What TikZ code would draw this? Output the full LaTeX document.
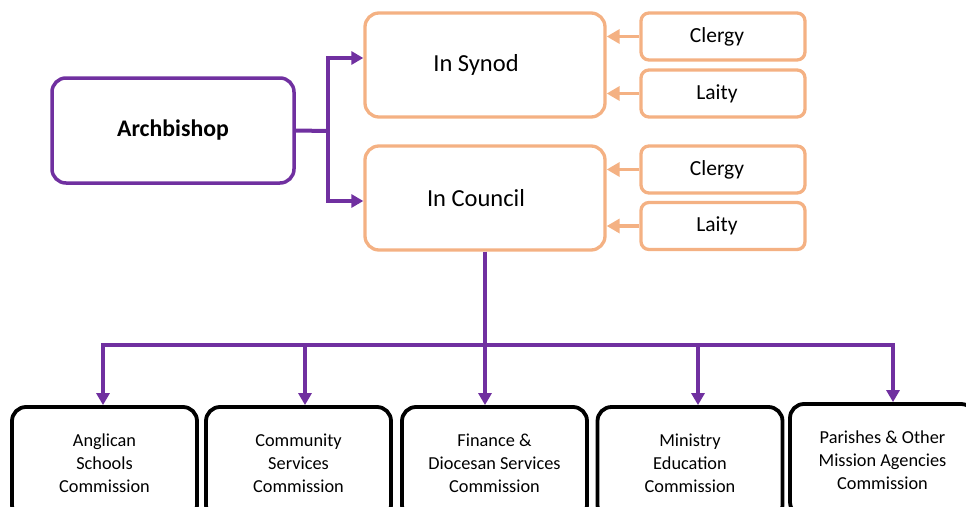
\documentclass[tikz,border=0pt]{standalone}
\usepackage{fontspec}
\setmainfont{Carlito}
\usetikzlibrary{arrows.meta}
\definecolor{govpurple}{HTML}{7030A0}
\definecolor{govorange}{HTML}{F4B183}

\begin{document}
\begin{tikzpicture}[x=1pt,y=-1pt,>=Stealth,
    headbox/.style={draw=govpurple,line width=3.5pt,rounded corners=14pt,
      minimum width=242pt,minimum height=105pt,inner sep=0pt,
      font=\fontsize{23.8}{27}\selectfont\bfseries},
    housebox/.style={draw=govorange,line width=3.3pt,rounded corners=14pt,
      minimum width=240pt,minimum height=104pt,inner sep=0pt,
      font=\fontsize{24.5}{28}\selectfont},
    orderbox/.style={draw=govorange,line width=3.3pt,rounded corners=8pt,
      minimum width=164pt,minimum height=47pt,inner sep=0pt,
      font=\fontsize{21.5}{25}\selectfont},
    commbox/.style={draw=black,line width=3.8pt,rounded corners=14pt,
      minimum width=185pt,minimum height=112pt,inner sep=0pt,align=center,
      font=\fontsize{18.3}{23}\selectfont},
    pline/.style={draw=govpurple,line width=4pt},
    parrow/.style={pline,-{Triangle[length=12pt,width=13pt]}},
    oarrow/.style={draw=govorange,line width=3.5pt,-{Triangle[length=13pt,width=14pt]}}]
  \useasboundingbox (0,0) rectangle (966,506);
  \clip (0,0) rectangle (966,506);
  % Archbishop and the two houses
  \node[headbox] (arch) at (173,130.5) {Archbishop};
  \node[housebox] (synod) at (485,65) {In Synod\hspace*{18pt}};
  \node[housebox] (council) at (485,198) {In Council\hspace*{18pt}};
  % Orders
  \node[orderbox] (clergyS) at (723,36.5) {Clergy\hspace*{12pt}};
  \node[orderbox] (laityS) at (723,93.5) {Laity\hspace*{12pt}};
  \node[orderbox] (clergyC) at (723,169.5) {Clergy\hspace*{12pt}};
  \node[orderbox] (laityC) at (723,226) {Laity\hspace*{12pt}};
  % Commissions
  \node[commbox] (comA) at (104.5,463) {Anglican\\Schools\\Commission};
  \node[commbox] (comB) at (298.5,463) {Community\\Services\\Commission};
  \node[commbox] (comC) at (494.5,463) {Finance \&\\Diocesan Services\\Commission};
  \node[commbox] (comD) at (690,463) {Ministry\\Education\\Commission};
  \node[commbox] (comE) at (882.5,460) {Parishes \& Other\\Mission Agencies\\Commission};
  % Archbishop to houses
  \coordinate (split) at (328,131);
  \draw[pline] (arch.east) -- (split);
  \draw[parrow] (split) |- ([yshift=7pt]synod.west);
  \draw[parrow] (split) |- ([yshift=-3pt]council.west);
  % Orders to houses
  \foreach \o/\h in {clergyS/synod,laityS/synod,clergyC/council,laityC/council}
    \draw[oarrow] (\o.west) -- (\o.west -| \h.east);
  % Council to commissions
  \coordinate (tA) at (103,345);
  \coordinate (tB) at (305,345);
  \coordinate (tD) at (698,345);
  \coordinate (tE) at (893,345);
  \draw[pline] (tA) -- (tE);
  \draw[parrow] (council.south) -- (council.south |- comC.north);
  \foreach \t/\c in {tA/comA,tB/comB,tD/comD,tE/comE}
    \draw[parrow] ([yshift=2pt]\t) -- (\t |- \c.north);
\end{tikzpicture}
\end{document}
